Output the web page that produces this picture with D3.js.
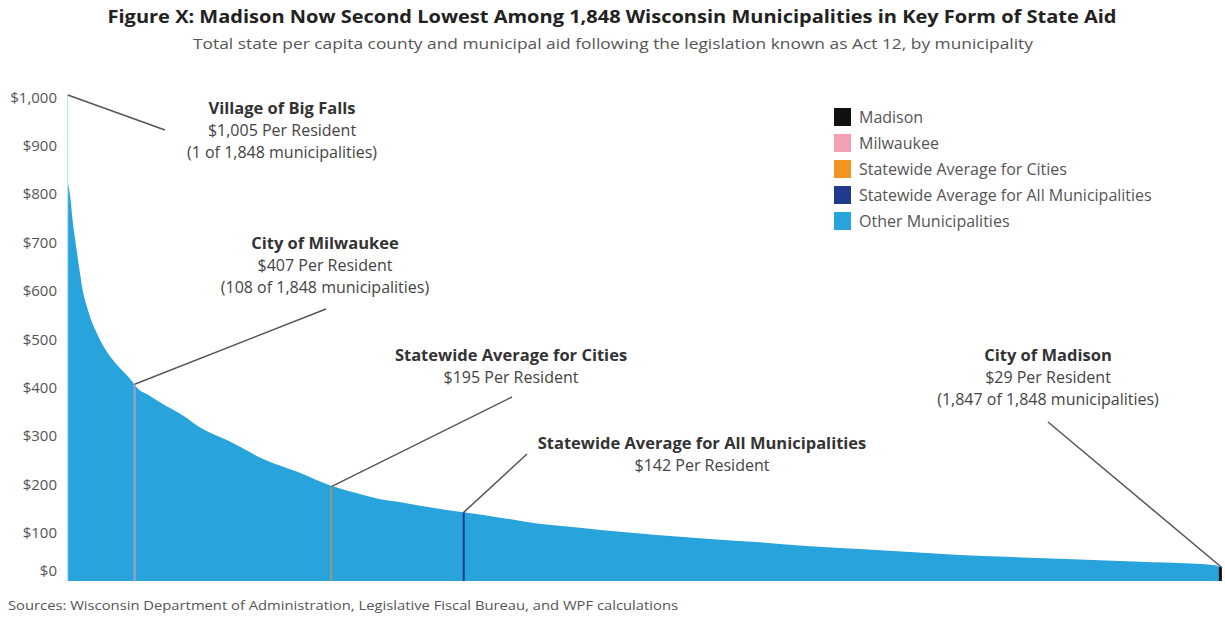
<!DOCTYPE html>
<html>
<head>
<meta charset="utf-8">
<script src="https://cdn.jsdelivr.net/npm/d3@7"></script>
<style>
  html, body { margin: 0; padding: 0; background: #fff; }
  svg { display: block; }
</style>
</head>
<body>
<svg id="chart" width="1225" height="617"></svg>
<script>
// ---------------- DATA ----------------
// Sampled points of the ranked distribution (rank of municipality, $ per resident)
const ranks  = [1, 2, 3, 6, 9, 13, 17, 22, 25, 32, 36, 46, 62, 83, 100, 108, 112, 130, 155, 180, 193, 209, 262, 315, 369, 423, 475, 502, 539, 593, 635, 699, 753, 806, 859, 913, 966, 1030, 1110, 1190, 1270, 1350, 1430, 1505, 1611, 1718, 1800, 1835, 1847, 1848];
const values = [1005, 822, 815, 788, 748, 708, 672, 628, 604, 568, 550, 518, 478, 443, 420, 407, 400, 385, 365, 347, 336, 321, 288, 252, 226, 197, 178, 169, 162, 150, 142, 130, 119, 112, 105, 99, 93, 87, 80, 72, 66, 60, 54, 50, 45, 40, 36, 33, 29, 27];
const totalMunicipalities = 1848;

// Highlighted municipalities / averages
const highlightKeys   = ["Madison", "Milwaukee", "Cities", "All"];
const highlightRanks  = [1847, 108, 423, 635];
const highlightValues = [29, 407, 195, 142];

// Legend
const legendLabels = ["Madison", "Milwaukee", "Statewide Average for Cities", "Statewide Average for All Municipalities", "Other Municipalities"];

// Y ticks
const yTicks = [0, 100, 200, 300, 400, 500, 600, 700, 800, 900, 1000];

// Texts
const titleText = "Figure X: Madison Now Second Lowest Among 1,848 Wisconsin Municipalities in Key Form of State Aid";
const subtitleText = "Total state per capita county and municipal aid following the legislation known as Act 12, by municipality";
const sourceText = "Sources: Wisconsin Department of Administration, Legislative Fiscal Bureau, and WPF calculations";
const annoTitles = ["Village of Big Falls", "City of Milwaukee", "Statewide Average for Cities", "Statewide Average for All Municipalities", "City of Madison"];
const annoLine2  = ["$1,005 Per Resident", "$407 Per Resident", "$195 Per Resident", "$142 Per Resident", "$29 Per Resident"];
const annoLine3  = ["(1 of 1,848 municipalities)", "(108 of 1,848 municipalities)", "", "", "(1,847 of 1,848 municipalities)"];
const annoRanks  = [1, 108, 423, 635, 1848];
const annoValues = [1005, 407, 195, 142, 29];

// ---------------- STYLES / LAYOUT ----------------
const colors = {
  Madison: "#111111",
  Milwaukee: "#f4a0b4",
  Cities: "#f2941f",
  All: "#1f3a8f",
  Other: "#29a3dc"
};
const legendColors = [colors.Madison, colors.Milwaukee, colors.Cities, colors.All, colors.Other];
const FONT = "'Open Sans', 'Noto Sans', sans-serif";

const svg = d3.select("#chart");

const x = d3.scaleLinear().domain([1, totalMunicipalities + 1]).range([67.5, 1221.5]);
const y = d3.scaleLinear().domain([0, 1005]).range([581, 95]);

const pts = ranks.map((r, i) => ({ r, v: values[i] }));
pts.push({ r: totalMunicipalities + 1, v: values[values.length - 1] });

// First slot (Big Falls spike) as a step, the rest as a smooth area
const spike = pts.slice(0, 2);
const rest = pts.slice(1);
svg.append("path")
  .attr("d", d3.area().x(d => x(d.r)).y0(y(0)).y1(d => y(d.v)).curve(d3.curveStepAfter)(spike))
  .attr("fill", "#8cc8ea");
svg.append("path")
  .attr("d", d3.area().x(d => x(d.r)).y0(y(0)).y1(d => y(d.v)).curve(d3.curveMonotoneX)(rest))
  .attr("fill", colors.Other);

// Highlight bars
const hlOpacity = { Madison: 1, Milwaukee: 0.5, Cities: 0.55, All: 1 };
const hlWidth = { Madison: 3, Milwaukee: 2.5, Cities: 2, All: 2 };
highlightKeys.forEach((k, i) => {
  const w = hlWidth[k];
  const cx = x(highlightRanks[i] + 0.5);
  svg.append("rect")
    .attr("x", k === "Madison" ? x(highlightRanks[i] + 1) - w + 1 : cx - w / 2)
    .attr("y", y(highlightValues[i]))
    .attr("width", w)
    .attr("height", y(0) - y(highlightValues[i]))
    .attr("fill", colors[k])
    .attr("opacity", hlOpacity[k]);
});

// Y axis (labels only)
const yAxis = d3.axisLeft(y).tickValues(yTicks).tickSize(0).tickPadding(0)
  .tickFormat(d => "$" + d3.format(",")(d));
const gy = svg.append("g").attr("transform", "translate(57,0)").call(yAxis);
gy.select(".domain").remove();
gy.selectAll("text")
  .attr("font-family", FONT)
  .attr("font-size", 15)
  .attr("fill", "#555")
  .attr("dy", d => d === 0 ? "-0.4em" : "0.32em");

// Title and subtitle
svg.append("text")
  .attr("x", 612).attr("y", 23)
  .attr("text-anchor", "middle")
  .attr("font-family", FONT).attr("font-weight", 700).attr("font-size", 17)
  .attr("fill", "#222")
  .attr("textLength", 1009).attr("lengthAdjust", "spacingAndGlyphs")
  .text(titleText);

svg.append("text")
  .attr("x", 613).attr("y", 49)
  .attr("text-anchor", "middle")
  .attr("font-family", FONT).attr("font-size", 14.5)
  .attr("fill", "#555")
  .attr("textLength", 840).attr("lengthAdjust", "spacingAndGlyphs")
  .text(subtitleText);

// Source
svg.append("text")
  .attr("x", 8).attr("y", 610)
  .attr("font-family", FONT).attr("font-size", 12)
  .attr("fill", "#555")
  .attr("textLength", 670).attr("lengthAdjust", "spacingAndGlyphs")
  .text(sourceText);

// Legend
const lg = svg.append("g").attr("transform", "translate(834,108)");
legendLabels.forEach((lab, i) => {
  lg.append("rect").attr("x", 0).attr("y", i * 26).attr("width", 17).attr("height", 18).attr("fill", legendColors[i]);
  lg.append("text").attr("x", 25).attr("y", i * 26 + 14.5)
    .attr("font-family", FONT).attr("font-size", 16).attr("fill", "#555")
    .attr("textLength", null)
    .text(lab);
});

// Annotations
const annoPos = [
  { cx: 282, ty: 114, lx: 165, ly: 130 },
  { cx: 325, ty: 249, lx: 326, ly: 309 },
  { cx: 511, ty: 361, lx: 512, ly: 397 },
  { cx: 702, ty: 449, lx: 527, ly: 454 },
  { cx: 1048, ty: 361, lx: 1048, ly: 422 }
];
annoTitles.forEach((t, i) => {
  const p = annoPos[i];
  const ax = x(annoRanks[i] + 0.5);
  svg.append("line")
    .attr("x1", ax).attr("y1", y(annoValues[i]))
    .attr("x2", p.lx).attr("y2", p.ly)
    .attr("stroke", "#555").attr("stroke-width", 1.5);
  const g = svg.append("g").attr("font-family", FONT).attr("text-anchor", "middle");
  g.append("text").attr("x", p.cx).attr("y", p.ty)
    .attr("font-weight", 700).attr("font-size", 16.5).attr("fill", "#333").text(t);
  g.append("text").attr("x", p.cx).attr("y", p.ty + 22)
    .attr("font-size", 16).attr("fill", "#444").text(annoLine2[i]);
  if (annoLine3[i]) {
    g.append("text").attr("x", p.cx).attr("y", p.ty + 44)
      .attr("font-size", 16).attr("fill", "#444").text(annoLine3[i]);
  }
});
</script>
</body>
</html>
